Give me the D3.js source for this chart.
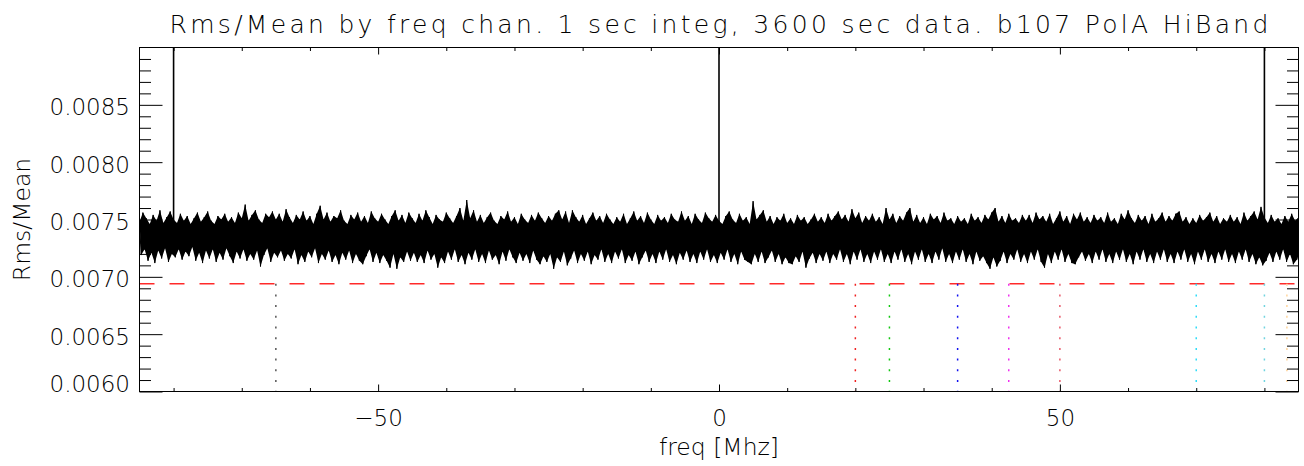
<!DOCTYPE html>
<html><head><meta charset="utf-8">
<script src="https://cdn.jsdelivr.net/npm/d3@7"></script>
<style>
html,body{margin:0;padding:0;background:#fff;}
svg{display:block;}
text{font-family:"DejaVu Sans",sans-serif;font-weight:200;fill:#000;}
</style></head>
<body>
<svg id="chart" width="1304" height="466"></svg>
<script>
// ---------- data ----------
const titleText = "Rms/Mean by freq chan. 1 sec integ, 3600 sec data. b107 PolA HiBand";
const xLabel = "freq [Mhz]";
const yLabel = "Rms/Mean";
const freqDomain = [-85, 85];
const rmsDomain = [0.0060, 0.0090];
const xMajorTicks = [-50, 0, 50];
const xMinorTicks = [-80, -70, -60, -40, -30, -20, -10, 10, 20, 30, 40, 60, 70, 80];
const yMajorTicks = [0.0060, 0.0065, 0.0070, 0.0075, 0.0080, 0.0085];
const yMinorTicks = [0.0061,0.0062,0.0063,0.0064,0.0066,0.0067,0.0068,0.0069,0.0071,0.0072,0.0073,0.0074,0.0076,0.0077,0.0078,0.0079,0.0081,0.0082,0.0083,0.0084,0.0086,0.0087,0.0088,0.0089];

// channel grid of the noise trace (MHz)
const bandFreqStart = -85, bandFreqStep = 0.5;
// upper envelope of rms/mean per 0.5 MHz cell
const bandHi = [
0.00748,0.00756,0.00751,0.00746,0.00754,0.00749,0.00758,0.00747,0.00752,0.00757,0.00750,0.00747,0.00755,0.00749,0.00753,0.00746,0.00751,0.00756,0.00748,0.00752,
0.00757,0.00749,0.00746,0.00753,0.00750,0.00755,0.00748,0.00752,0.00747,0.00756,0.00751,0.00763,0.00749,0.00754,0.00758,0.00750,0.00747,0.00755,0.00752,0.00757,
0.00750,0.00755,0.00748,0.00759,0.00752,0.00747,0.00754,0.00750,0.00757,0.00749,0.00753,0.00746,0.00755,0.00762,0.00750,0.00756,0.00748,0.00753,0.00751,0.00758,
0.00749,0.00746,0.00754,0.00750,0.00756,0.00748,0.00753,0.00747,0.00757,0.00751,0.00748,0.00755,0.00750,0.00746,0.00753,0.00758,0.00749,0.00754,0.00747,0.00756,
0.00751,0.00747,0.00755,0.00749,0.00758,0.00752,0.00746,0.00754,0.00750,0.00748,0.00756,0.00751,0.00747,0.00753,0.00760,0.00749,0.00767,0.00751,0.00758,0.00748,
0.00754,0.00747,0.00752,0.00756,0.00749,0.00746,0.00753,0.00750,0.00757,0.00748,0.00752,0.00746,0.00755,0.00750,0.00747,0.00754,0.00749,0.00756,0.00751,0.00747,
0.00753,0.00749,0.00755,0.00758,0.00750,0.00757,0.00747,0.00758,0.00752,0.00748,0.00754,0.00746,0.00751,0.00756,0.00749,0.00753,0.00747,0.00755,0.00750,0.00746,
0.00752,0.00748,0.00755,0.00746,0.00751,0.00757,0.00749,0.00753,0.00747,0.00756,0.00750,0.00746,0.00754,0.00749,0.00752,0.00747,0.00755,0.00750,0.00748,0.00757,
0.00749,0.00753,0.00746,0.00755,0.00750,0.00747,0.00756,0.00751,0.00748,0.00754,0.00749,0.00746,0.00753,0.00757,0.00750,0.00747,0.00755,0.00749,0.00752,0.00746,
0.00766,0.00750,0.00754,0.00758,0.00748,0.00753,0.00746,0.00752,0.00749,0.00755,0.00747,0.00751,0.00746,0.00754,0.00749,0.00752,0.00746,0.00750,0.00755,0.00748,
0.00752,0.00747,0.00755,0.00749,0.00753,0.00757,0.00750,0.00754,0.00748,0.00759,0.00751,0.00756,0.00747,0.00753,0.00749,0.00755,0.00748,0.00752,0.00746,0.00760,
0.00750,0.00755,0.00747,0.00753,0.00749,0.00756,0.00760,0.00748,0.00754,0.00747,0.00752,0.00746,0.00755,0.00750,0.00753,0.00747,0.00756,0.00749,0.00751,0.00746,
0.00753,0.00748,0.00751,0.00746,0.00755,0.00749,0.00752,0.00747,0.00754,0.00750,0.00756,0.00760,0.00748,0.00753,0.00747,0.00755,0.00749,0.00751,0.00747,0.00754,
0.00749,0.00754,0.00747,0.00756,0.00750,0.00753,0.00748,0.00755,0.00746,0.00751,0.00757,0.00748,0.00753,0.00746,0.00755,0.00750,0.00756,0.00748,0.00752,0.00747,
0.00754,0.00749,0.00752,0.00747,0.00756,0.00748,0.00751,0.00746,0.00755,0.00750,0.00758,0.00751,0.00747,0.00754,0.00749,0.00753,0.00746,0.00755,0.00748,0.00751,
0.00756,0.00748,0.00753,0.00749,0.00755,0.00757,0.00748,0.00752,0.00746,0.00751,0.00747,0.00754,0.00749,0.00752,0.00756,0.00748,0.00753,0.00746,0.00751,0.00748,
0.00754,0.00748,0.00752,0.00746,0.00756,0.00749,0.00753,0.00757,0.00750,0.00761,0.00752,0.00747,0.00754,0.00748,0.00751,0.00746,0.00753,0.00748,0.00755,0.00749,0.00752
];
// lower envelope of rms/mean per 0.5 MHz cell
const bandLo = [
0.00719,0.00724,0.00714,0.00721,0.00712,0.00723,0.00716,0.00725,0.00713,0.00720,0.00717,0.00724,0.00715,0.00722,0.00718,0.00726,0.00714,0.00721,0.00712,0.00723,
0.00716,0.00724,0.00713,0.00721,0.00715,0.00725,0.00718,0.00712,0.00722,0.00716,0.00724,0.00714,0.00720,0.00715,0.00723,0.00709,0.00719,0.00725,0.00713,0.00721,
0.00717,0.00723,0.00714,0.00720,0.00716,0.00724,0.00711,0.00719,0.00713,0.00722,0.00717,0.00725,0.00712,0.00720,0.00715,0.00723,0.00713,0.00719,0.00711,0.00721,
0.00715,0.00723,0.00712,0.00720,0.00714,0.00711,0.00718,0.00724,0.00713,0.00721,0.00712,0.00719,0.00714,0.00708,0.00720,0.00707,0.00717,0.00713,0.00722,0.00714,
0.00721,0.00713,0.00719,0.00712,0.00723,0.00715,0.00720,0.00708,0.00717,0.00712,0.00722,0.00715,0.00724,0.00713,0.00719,0.00711,0.00721,0.00715,0.00724,0.00713,
0.00720,0.00712,0.00723,0.00715,0.00719,0.00711,0.00722,0.00714,0.00724,0.00717,0.00712,0.00721,0.00714,0.00720,0.00712,0.00723,0.00715,0.00711,0.00718,0.00713,
0.00720,0.00707,0.00717,0.00713,0.00722,0.00710,0.00716,0.00723,0.00712,0.00720,0.00714,0.00722,0.00711,0.00719,0.00715,0.00724,0.00713,0.00720,0.00712,0.00722,
0.00716,0.00724,0.00712,0.00719,0.00714,0.00722,0.00711,0.00717,0.00723,0.00713,0.00720,0.00712,0.00722,0.00715,0.00724,0.00713,0.00719,0.00711,0.00721,0.00715,
0.00723,0.00713,0.00720,0.00712,0.00722,0.00715,0.00724,0.00713,0.00719,0.00712,0.00721,0.00715,0.00724,0.00713,0.00720,0.00711,0.00722,0.00715,0.00713,0.00711,
0.00720,0.00713,0.00722,0.00712,0.00717,0.00723,0.00713,0.00720,0.00711,0.00717,0.00712,0.00711,0.00718,0.00713,0.00722,0.00708,0.00716,0.00721,0.00712,0.00720,
0.00714,0.00722,0.00712,0.00720,0.00715,0.00724,0.00713,0.00720,0.00711,0.00722,0.00715,0.00724,0.00713,0.00720,0.00712,0.00722,0.00715,0.00724,0.00713,0.00720,
0.00712,0.00722,0.00715,0.00724,0.00713,0.00720,0.00711,0.00722,0.00715,0.00724,0.00713,0.00720,0.00712,0.00722,0.00715,0.00725,0.00713,0.00720,0.00712,0.00722,
0.00715,0.00724,0.00713,0.00720,0.00711,0.00722,0.00714,0.00718,0.00712,0.00707,0.00717,0.00709,0.00714,0.00722,0.00712,0.00720,0.00715,0.00724,0.00713,0.00720,
0.00712,0.00722,0.00715,0.00724,0.00713,0.00708,0.00720,0.00712,0.00722,0.00715,0.00724,0.00713,0.00720,0.00712,0.00711,0.00717,0.00722,0.00714,0.00720,0.00712,
0.00722,0.00715,0.00724,0.00713,0.00720,0.00712,0.00722,0.00715,0.00724,0.00713,0.00720,0.00711,0.00722,0.00715,0.00724,0.00713,0.00720,0.00712,0.00722,0.00715,
0.00724,0.00713,0.00720,0.00712,0.00722,0.00715,0.00724,0.00713,0.00720,0.00711,0.00722,0.00715,0.00724,0.00713,0.00720,0.00712,0.00722,0.00715,0.00724,0.00713,
0.00720,0.00712,0.00722,0.00715,0.00724,0.00713,0.00720,0.00711,0.00717,0.00710,0.00714,0.00721,0.00713,0.00722,0.00715,0.00724,0.00713,0.00720,0.00711,0.00715,0.00722
];
// strong single-channel spikes (go off the top of the plot)
const spikeFreqs = [-80, 0, 80];
const spikeValues = [0.0100, 0.0100, 0.0100];
// threshold line
const thresholdValue = 0.00694;
// dotted marker lines
const markerFreqs  = [-65, 20, 25, 35, 42.5, 50, 70, 80, 83.3];
const markerColors = ["#555555", "#f02020", "#10c810", "#1010f0", "#f030f0", "#e85a6a", "#30dcf8", "#70d4e0", "#ffd49a"];

// ---------- layout ----------
const M = {left: 139.5, right: 1298.5, top: 47.5, bottom: 391.5};
const FS = 23;

const svg = d3.select("#chart");
const x = d3.scaleLinear().domain(freqDomain).range([M.left, M.right]);
const y = d3.scaleLinear().domain(rmsDomain).range([M.bottom, M.top]);

svg.append("defs").append("clipPath").attr("id", "plotclip")
  .append("rect").attr("x", M.left).attr("y", M.top)
  .attr("width", M.right - M.left).attr("height", M.bottom - M.top);

const plot = svg.append("g").attr("clip-path", "url(#plotclip)");

// noise band: filled envelope + zigzag trace
const n = Math.min(bandHi.length, bandLo.length);
const cells = d3.range(n).map(i => ({
  f: bandFreqStart + i * bandFreqStep, hi: bandHi[i], lo: bandLo[i]
}));
plot.append("path")
  .attr("d", d3.area()
    .x0(d => x(d.f + bandFreqStep / 2)).x1(d => x(d.f))
    .y0(d => y(d.lo)).y1(d => y(d.hi))(cells))
  .attr("fill", "#000");
const tracePts = [];
cells.forEach(d => {
  tracePts.push([d.f, d.hi]);
  tracePts.push([d.f + bandFreqStep / 2, d.lo]);
});
plot.append("path")
  .attr("d", d3.line().x(d => x(d[0])).y(d => y(d[1]))(tracePts))
  .attr("fill", "none").attr("stroke", "#000").attr("stroke-width", 1);

// spikes
plot.selectAll("line.spike").data(spikeFreqs).join("line")
  .attr("class", "spike")
  .attr("x1", d => x(d)).attr("x2", d => x(d))
  .attr("y1", (d, i) => y(0.0073)).attr("y2", (d, i) => y(spikeValues[i]))
  .attr("stroke", "#000").attr("stroke-width", 1.6);

// threshold
plot.append("line")
  .attr("x1", x(freqDomain[0])).attr("x2", x(freqDomain[1]))
  .attr("y1", y(thresholdValue)).attr("y2", y(thresholdValue))
  .attr("stroke", "#ff2a2a").attr("stroke-width", 1.4)
  .attr("stroke-dasharray", "15,15");

// dotted markers
plot.selectAll("line.marker").data(markerFreqs).join("line")
  .attr("class", "marker")
  .attr("x1", d => x(d)).attr("x2", d => x(d))
  .attr("y1", y(thresholdValue)).attr("y2", M.bottom)
  .attr("stroke", (d, i) => markerColors[i]).attr("stroke-width", 1.5)
  .attr("stroke-dasharray", "2,8.7");

// ---------- axes ----------
const xMajLen = 7, xMinLen = 3.5, yMajLen = 23, yMinLen = 11.5;
function styleAxis(g) {
  g.select(".domain").remove();
  g.selectAll(".tick line").attr("stroke", "#000").attr("stroke-width", 1);
  g.selectAll("text").attr("font-family", '"DejaVu Sans",sans-serif').attr("font-size", FS).attr("fill", "#000");
}
// bottom
svg.append("g").attr("transform", `translate(0,${M.bottom})`)
  .call(d3.axisBottom(x).tickValues(xMajorTicks).tickSize(-xMajLen).tickPadding(18.5).tickFormat(d3.format("d")))
  .call(styleAxis);
svg.append("g").attr("transform", `translate(0,${M.bottom})`)
  .call(d3.axisBottom(x).tickValues(xMinorTicks).tickSize(-xMinLen).tickFormat(""))
  .call(styleAxis);
// top
svg.append("g").attr("transform", `translate(0,${M.top})`)
  .call(d3.axisTop(x).tickValues(xMajorTicks).tickSize(-xMajLen).tickFormat(""))
  .call(styleAxis);
svg.append("g").attr("transform", `translate(0,${M.top})`)
  .call(d3.axisTop(x).tickValues(xMinorTicks).tickSize(-xMinLen).tickFormat(""))
  .call(styleAxis);
// left
const yLeft = svg.append("g").attr("transform", `translate(${M.left},0)`)
  .call(d3.axisLeft(y).tickValues(yMajorTicks).tickSize(-yMajLen).tickPadding(9.5).tickFormat(d3.format(".4f")))
  .call(styleAxis);
yLeft.selectAll(".tick text").attr("dy", null)
  .attr("y", d => Math.min(10, M.bottom - y(d)));
svg.append("g").attr("transform", `translate(${M.left},0)`)
  .call(d3.axisLeft(y).tickValues(yMinorTicks).tickSize(-yMinLen).tickFormat(""))
  .call(styleAxis);
// right
svg.append("g").attr("transform", `translate(${M.right},0)`)
  .call(d3.axisRight(y).tickValues(yMajorTicks).tickSize(-yMajLen).tickFormat(""))
  .call(styleAxis);
svg.append("g").attr("transform", `translate(${M.right},0)`)
  .call(d3.axisRight(y).tickValues(yMinorTicks).tickSize(-yMinLen).tickFormat(""))
  .call(styleAxis);

// frame
svg.append("rect")
  .attr("x", M.left).attr("y", M.top)
  .attr("width", M.right - M.left).attr("height", M.bottom - M.top)
  .attr("fill", "none").attr("stroke", "#000").attr("stroke-width", 1);

// titles
svg.append("text").attr("x", (M.left + M.right) / 2 + 1.6).attr("y", 33)
  .attr("text-anchor", "middle").attr("font-size", 25)
  .attr("letter-spacing", 3.3).text(titleText);
svg.append("text").attr("x", (M.left + M.right) / 2).attr("y", 455)
  .attr("text-anchor", "middle").attr("font-size", 23.5).text(xLabel);
svg.append("text")
  .attr("transform", `translate(30,${(M.top + M.bottom) / 2}) rotate(-90)`)
  .attr("text-anchor", "middle").attr("font-size", 23.5).text(yLabel);
</script>
</body></html>
